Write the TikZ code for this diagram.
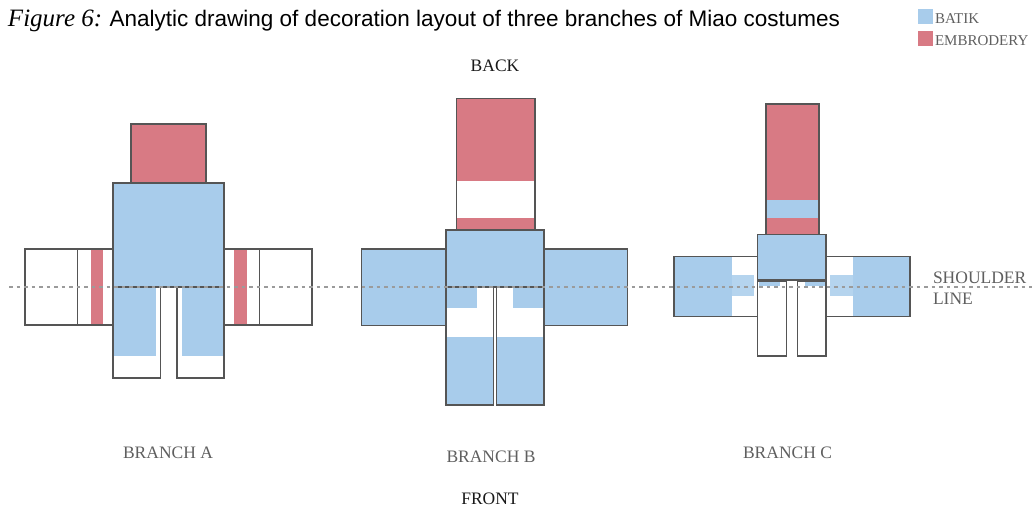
\documentclass[tikz,border=0pt]{standalone}
\usepackage{fontspec}
\setmainfont{Liberation Serif}
\newfontfamily\captionsans{Liberation Sans}
\usepackage{xcolor}
\usetikzlibrary{positioning}
\definecolor{batikBlue}{RGB}{168,204,235}
\definecolor{embroRed}{RGB}{216,122,132}
\definecolor{lineGray}{RGB}{85,85,85}
\definecolor{labelGray}{RGB}{95,95,95}
\definecolor{dotGray}{RGB}{155,155,155}

\begin{document}
\begin{tikzpicture}[
    x=1pt, y=-1pt,
    every node/.style={inner sep=0pt, outer sep=0pt},
    batik/.style={fill=batikBlue},
    embro/.style={fill=embroRed},
    outline/.style={draw=lineGray, line width=1.3pt},
    labelText/.style={font=\fontsize{17.5}{20}\selectfont, text=labelGray, anchor=base},
    sideText/.style={font=\fontsize{17.5}{20}\selectfont, text=black!90, anchor=base},
    legendText/.style={font=\fontsize{15}{17}\selectfont, text=labelGray, anchor=base west},
    shoulderLine/.style={draw=dotGray, line width=2pt, dash pattern=on 3.5pt off 4pt}
]
\useasboundingbox (0,0) rectangle (1032,509);

% Caption and legend
\node (caption) [anchor=base west, font=\fontsize{22.5}{26}\selectfont] at (8,26)
    {{\fontsize{25}{26}\selectfont\itshape Figure 6:} \captionsans Analytic drawing of decoration layout of three branches of Miao costumes};
\fill[batik] (918,9) rectangle (933,24);
\fill[embro] (918,31) rectangle (933,46);
\node (batikKey) [legendText] at (935,23) {BATIK};
\node (embroKey) [legendText] at (935,45) {EMBRODERY};

% Branch A
\fill[embro] (131,124) rectangle (206,183);
\draw[outline] (131,124) rectangle (206,183);
\fill[embro] (90.7,249) rectangle (103.3,325);
\fill[embro] (234.3,249) rectangle (247.3,325);
\draw[outline] (25,249) rectangle (113,325);
\draw[outline] (77.7,249) -- (77.7,325);
\draw[outline] (224,249) rectangle (312,325);
\draw[outline] (259.3,249) -- (259.3,325);
\fill[batik] (113,287) rectangle (156,356);
\fill[batik] (182,287) rectangle (224,356);
\draw[outline] (113,287) rectangle (160.7,378);
\draw[outline] (177,287) rectangle (224,378);
\fill[batik] (113,183) rectangle (224,287);
\draw[outline] (113,183) rectangle (224,287);

% Branch B
\fill[embro] (456.7,98.3) rectangle (535,180.7);
\fill[embro] (456.7,218.3) rectangle (535,230);
\draw[outline] (456.7,98.3) rectangle (535,230);
\fill[batik] (361.7,249) rectangle (446,325.7);
\draw[outline] (361.7,249) rectangle (446,325.7);
\fill[batik] (544,249) rectangle (627.7,325.7);
\draw[outline] (544,249) rectangle (627.7,325.7);
\fill[batik] (446,287) rectangle (476.7,308.3);
\fill[batik] (512.7,287) rectangle (544,308.3);
\fill[batik] (446,336.7) rectangle (493.3,405);
\fill[batik] (496.7,336.7) rectangle (544,405);
\draw[outline] (446,287) rectangle (493.3,405);
\draw[outline] (496.7,287) rectangle (544,405);
\fill[batik] (446,230) rectangle (544,287);
\draw[outline] (446,230) rectangle (544,287);

% Branch C
\fill[embro] (766,104) rectangle (819,234.3);
\fill[batik] (766,200) rectangle (819,218.3);
\draw[outline] (766,104) rectangle (819,234.3);
\fill[batik] (674,256.7) rectangle (731.7,316.7);
\fill[batik] (852.7,256.7) rectangle (910,316.7);
\fill[batik, fill opacity=0.85] (729.3,275) rectangle (754,296);
\fill[batik, fill opacity=0.85] (830,275) rectangle (854.3,296);
\draw[outline] (674,256.7) rectangle (757.3,316.7);
\draw[outline] (826,256.7) rectangle (910,316.7);
\fill[batik] (759,280) rectangle (780,286);
\fill[batik] (805,280) rectangle (825,286);
\draw[outline] (757.3,281) rectangle (786.7,356);
\draw[outline] (797.7,281) rectangle (826,356);
\fill[batik] (757.3,234.3) rectangle (826,280);
\draw[outline] (757.3,234.3) rectangle (826,280);

% Shoulder line
\coordinate (lineStart) at (9,287);
\coordinate (lineEnd) at (1032,287);
\draw[shoulderLine] (lineStart) -- (lineEnd);

% Labels
\node (back) [sideText] at (495,71) {BACK};
\node (front) [sideText] at (490,504) {FRONT};
\node (branchA) [labelText] at (168,458) {BRANCH A};
\node (branchB) [labelText] at (491,462) {BRANCH B};
\node (branchC) [labelText] at (787.5,458) {BRANCH C};
\node (shoulder) [labelText, anchor=base west] at (933,283) {SHOULDER};
\node (lineLabel) [labelText, anchor=base west] at (933,304) {LINE};

\end{tikzpicture}
\end{document}
